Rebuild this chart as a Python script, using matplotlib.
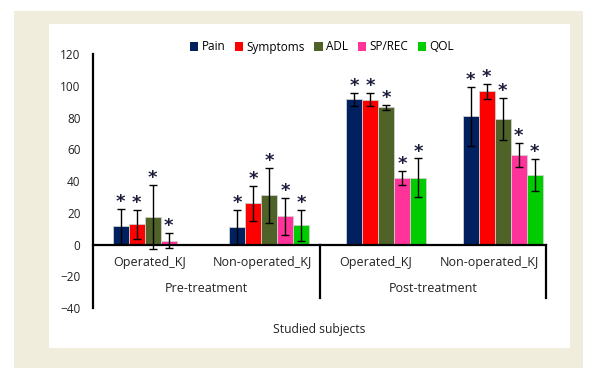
import matplotlib
matplotlib.use("Agg")
import matplotlib.pyplot as plt
from matplotlib.patches import Patch, Rectangle
import numpy as np

plt.rcParams["font.family"] = ["Open Sans", "DejaVu Sans"]

# data
groups = ["Operated_KJ", "Non-operated_KJ", "Operated_KJ", "Non-operated_KJ"]
phases = ["Pre-treatment", "Post-treatment"]
series = ["Pain", "Symptoms", "ADL", "SP/REC", "QOL"]
colors = ["#002060", "#ff0000", "#4f6228", "#ff3399", "#00cc00"]

pain = [11.4, 11.0, 91.4, 80.8]
symptoms = [12.6, 25.9, 91.2, 96.4]
adl = [17.3, 31.0, 86.5, 79.2]
sprec = [2.5, 17.7, 41.9, 56.6]
qol = [0.0, 12.0, 42.1, 43.6]

pain_err = [11.2, 10.5, 3.9, 18.7]
symptoms_err = [9.4, 11.2, 4.2, 4.9]
adl_err = [20.2, 17.5, 1.6, 13.3]
sprec_err = [4.8, 11.8, 4.6, 7.6]
qol_err = [0.0, 9.9, 12.1, 10.0]

values = [pain, symptoms, adl, sprec, qol]
errors = [pain_err, symptoms_err, adl_err, sprec_err, qol_err]

W, H = 591, 368
fig = plt.figure(figsize=(W / 100, H / 100), dpi=100)
fig.patch.set_facecolor("white")

# beige frame and white panel
fig.patches.append(Rectangle((14 / W, 0), (583 - 14) / W, 1 - 11 / H,
                             transform=fig.transFigure, facecolor="#f1eddc",
                             edgecolor="none", zorder=-2))
fig.patches.append(Rectangle((49 / W, 1 - 348 / H), (570 - 49) / W, (348 - 24) / H,
                             transform=fig.transFigure, facecolor="white",
                             edgecolor="none", zorder=-1))

x0, x1 = 93, 546
y_top, y_bot = 54, 308
ax = fig.add_axes([x0 / W, 1 - y_bot / H, (x1 - x0) / W, (y_bot - y_top) / H])
ax.patch.set_alpha(0)
ax.set_xlim(0, 4)
ax.set_ylim(-40, 120)
ax.set_yticks(np.arange(-40, 121, 20))
ax.tick_params(axis="y", length=0, labelsize=8.5, pad=9, labelcolor="#222222")
ax.set_xticks([])
for s in ["top", "right", "bottom"]:
    ax.spines[s].set_visible(False)
ax.spines["left"].set_linewidth(1.6)

bw = 0.1413
start, step = 0.527, 1.03
centers = start + step * np.arange(len(groups))
for k, (name, vals, errs, c) in enumerate(zip(series, values, errors, colors)):
    xs = centers + (k - 2) * bw
    ax.bar(xs, vals, width=bw, color=c, edgecolor="#d0d0d0", linewidth=0.6, zorder=2)
    for x, v, e in zip(xs, vals, errs):
        if v <= 0:
            continue
        ax.errorbar(x, v, yerr=e, fmt="none", ecolor="black", elinewidth=1.0,
                    capsize=3, capthick=1.0, zorder=3)
        ax.annotate("*", (x, v + e), xytext=(0, -1.5), textcoords="offset points",
                    ha="center", va="bottom", fontsize=13, fontweight="bold",
                    color="#1c1c3c", family="DejaVu Sans", zorder=4)

# zero line and group separators
ax.plot([0, 4], [0, 0], color="black", lw=1.6, clip_on=False, zorder=5)
for xv in [2, 4]:
    ax.plot([xv, xv], [0, -34], color="black", lw=1.6, clip_on=False, zorder=5)

for i, g in enumerate(groups):
    ax.text(i + 0.5, -11.6, g, ha="center", va="center", fontsize=9, color="#222222")
for j, p in enumerate(phases):
    ax.text(2 * j + 1, -28, p, ha="center", va="center", fontsize=9, color="#222222")

fig.text((273 + 365) / 2 / W, 1 - 329 / H, "Studied subjects", ha="center",
         va="center", fontsize=8.7, color="#222222")

handles = [Patch(facecolor=c, edgecolor="none", label=n) for n, c in zip(series, colors)]
fig.legend(handles=handles, loc="center", bbox_to_anchor=(322 / W, 1 - 47 / H),
           ncol=5, frameon=False, fontsize=8.5, handlelength=0.7, handleheight=0.7,
           handletextpad=0.3, columnspacing=0.8)

fig.savefig("out.png", dpi=100)
